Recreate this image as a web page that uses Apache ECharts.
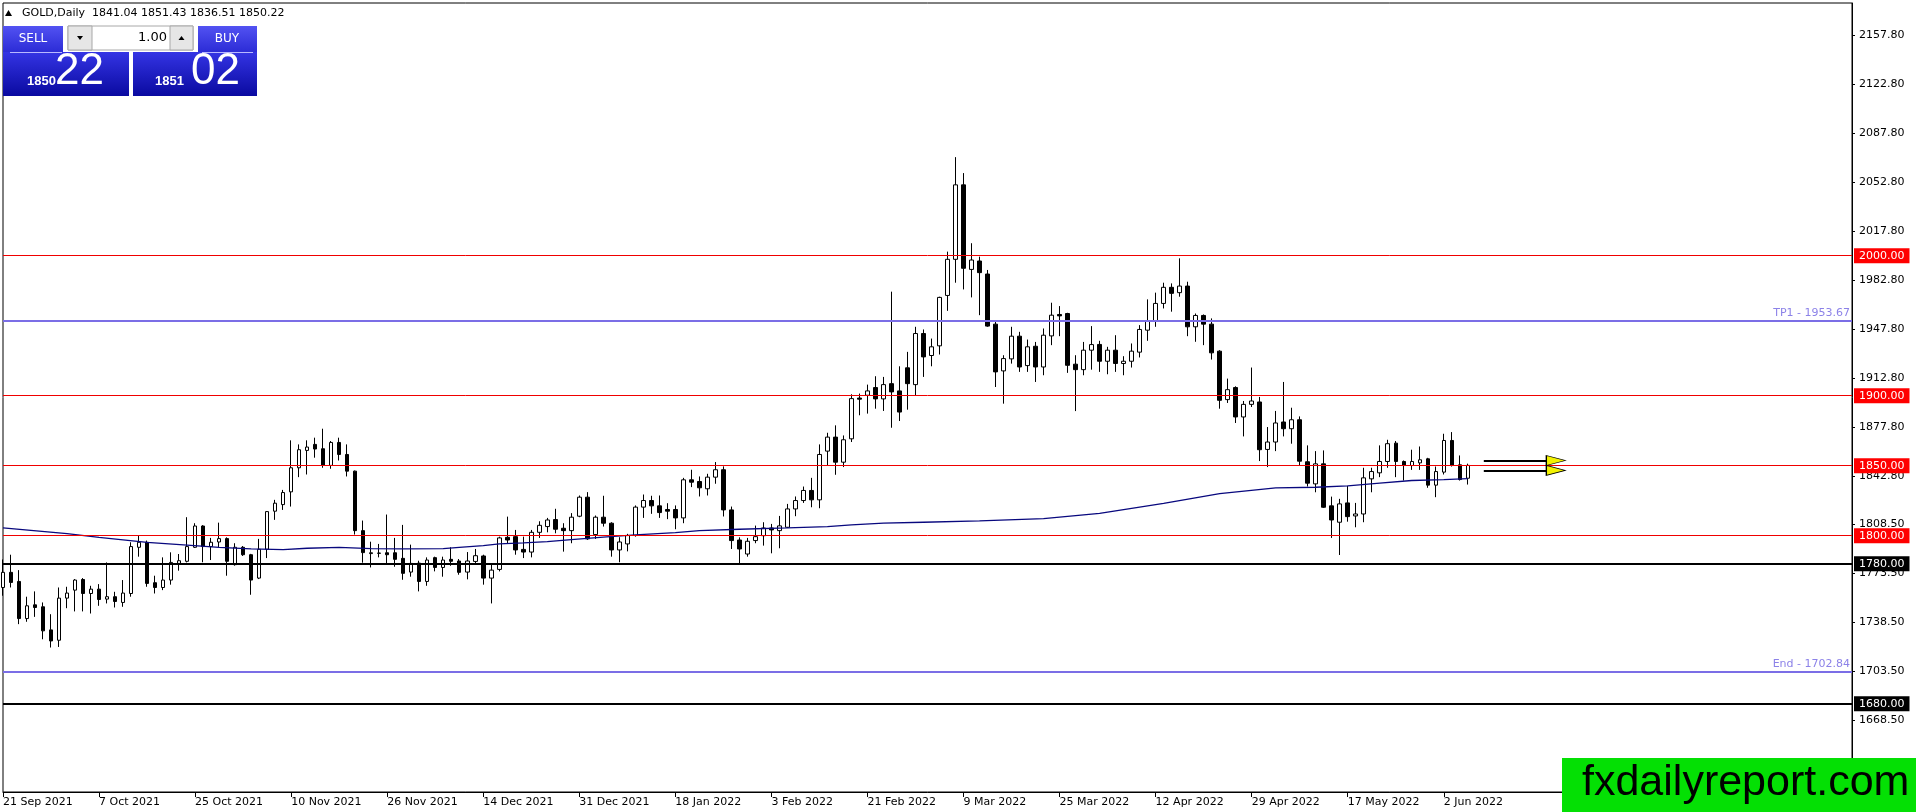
<!DOCTYPE html>
<html>
<head>
<meta charset="utf-8">
<title>GOLD,Daily</title>
<script src="https://cdn.jsdelivr.net/npm/echarts@6/dist/echarts.min.js"></script>
<style>
  html, body { margin: 0; padding: 0; background: #fff; }
  #chart { width: 1916px; height: 812px; }
</style>
</head>
<body>
<div id="chart"></div>
<script>
// GOLD daily bars, 21 Sep 2021 .. 7 Jun 2022
var opens = [
    1763.0, 1773.8, 1767.3, 1740.8, 1750.6, 1749.2, 1732.7, 1725.3, 1755.4, 1761.1,
    1768.7, 1758.7, 1761.8, 1754.7, 1756.4, 1752.3, 1758.7, 1791.7, 1795.3, 1766.4,
    1763.0, 1768.3, 1780.2, 1781.7, 1791.7, 1806.9, 1792.2, 1795.5, 1797.9, 1779.3,
    1791.7, 1786.4, 1769.7, 1790.3, 1817.5, 1822.2, 1831.3, 1848.5, 1860.9, 1865.2,
    1862.1, 1850.2, 1866.6, 1858.0, 1846.1, 1803.6, 1787.2, 1787.6, 1787.8, 1787.8,
    1783.8, 1774.0, 1780.4, 1767.3, 1784.3, 1777.3, 1783.1, 1781.9, 1774.0, 1781.6,
    1785.5, 1769.7, 1775.9, 1798.8, 1799.3, 1790.2, 1788.3, 1802.4, 1806.5, 1811.5,
    1805.3, 1803.6, 1813.9, 1827.5, 1800.8, 1813.2, 1808.9, 1789.8, 1794.1, 1800.1,
    1820.4, 1825.1, 1821.3, 1818.7, 1818.7, 1812.7, 1839.9, 1838.7, 1833.5, 1841.8,
    1847.1, 1818.4, 1796.9, 1786.9, 1796.5, 1800.0, 1805.5, 1803.6, 1806.0, 1819.1,
    1825.1, 1832.3, 1825.6, 1860.4, 1870.4, 1852.5, 1869.2, 1898.3, 1900.3, 1905.8,
    1897.7, 1908.6, 1903.4, 1919.9, 1907.9, 1944.4, 1928.7, 1935.6, 1971.6, 1997.4,
    2050.6, 1990.2, 1996.2, 1986.9, 1951.1, 1917.7, 1926.3, 1942.5, 1921.5, 1935.3,
    1920.5, 1942.7, 1958.0, 1958.7, 1922.5, 1918.6, 1932.5, 1936.6, 1924.6, 1932.5,
    1923.0, 1924.6, 1931.1, 1946.8, 1953.5, 1965.9, 1977.4, 1973.6, 1978.3, 1949.2,
    1957.3, 1951.1, 1931.8, 1897.2, 1905.8, 1884.8, 1893.8, 1895.5, 1861.6, 1866.9,
    1881.2, 1876.4, 1882.8, 1852.8, 1837.0, 1851.3, 1821.3, 1809.6, 1823.4, 1814.1,
    1815.5, 1840.6, 1844.9, 1853.0, 1866.1, 1853.0, 1850.1, 1852.0, 1854.9, 1836.1,
    1845.4, 1868.0, 1850.6, 1841.04
];
var highs = [
    1783.0, 1786.4, 1775.4, 1756.4, 1760.2, 1752.3, 1743.9, 1763.0, 1763.5, 1769.0,
    1769.7, 1764.2, 1765.4, 1780.9, 1759.9, 1768.3, 1795.3, 1800.0, 1796.5, 1771.4,
    1784.5, 1788.1, 1786.9, 1813.2, 1808.9, 1807.5, 1798.4, 1809.3, 1798.8, 1794.6,
    1792.6, 1787.0, 1797.7, 1817.5, 1825.6, 1832.7, 1868.1, 1865.2, 1868.1, 1870.0,
    1876.4, 1867.6, 1870.0, 1865.2, 1846.5, 1810.8, 1795.7, 1794.1, 1815.1, 1798.4,
    1807.7, 1793.6, 1782.1, 1784.5, 1785.0, 1785.0, 1791.7, 1783.3, 1788.3, 1790.5,
    1786.4, 1779.7, 1799.3, 1813.6, 1804.1, 1799.3, 1804.1, 1810.3, 1812.7, 1819.2,
    1808.9, 1816.1, 1828.7, 1831.1, 1814.4, 1828.5, 1809.6, 1798.9, 1801.3, 1821.6,
    1829.4, 1828.5, 1828.7, 1823.2, 1821.6, 1841.3, 1847.1, 1842.3, 1844.2, 1852.6,
    1849.5, 1820.8, 1798.8, 1798.4, 1807.2, 1809.6, 1808.4, 1814.1, 1822.7, 1828.0,
    1835.1, 1841.3, 1865.2, 1873.5, 1878.8, 1871.6, 1901.0, 1901.5, 1907.9, 1913.9,
    1913.4, 1974.3, 1921.0, 1931.3, 1949.2, 1947.3, 1940.8, 1970.7, 2002.9, 2070.4,
    2059.0, 2008.9, 1999.3, 1989.8, 1952.8, 1928.9, 1949.2, 1945.6, 1940.1, 1938.4,
    1948.0, 1966.4, 1964.0, 1959.2, 1928.9, 1938.4, 1949.7, 1939.2, 1934.9, 1943.2,
    1928.2, 1937.3, 1950.4, 1968.8, 1973.6, 1980.7, 1980.2, 1998.1, 1981.4, 1958.7,
    1958.0, 1955.2, 1932.5, 1912.2, 1906.7, 1896.2, 1920.1, 1899.1, 1877.6, 1889.1,
    1909.8, 1891.4, 1885.2, 1864.5, 1860.4, 1860.9, 1827.9, 1826.3, 1835.6, 1823.4,
    1848.5, 1848.5, 1864.5, 1868.5, 1867.6, 1853.7, 1861.4, 1863.7, 1855.6, 1849.4,
    1872.8, 1874.0, 1857.3, 1851.43
];
var lows = [
    1757.1, 1763.0, 1736.8, 1738.5, 1742.0, 1726.0, 1720.1, 1720.5, 1748.2, 1745.9,
    1745.9, 1744.4, 1749.9, 1751.6, 1748.7, 1749.2, 1756.4, 1785.0, 1763.5, 1758.7,
    1761.1, 1765.0, 1775.0, 1780.9, 1791.2, 1781.0, 1782.6, 1791.7, 1771.4, 1778.6,
    1785.5, 1757.8, 1769.0, 1784.0, 1811.3, 1818.4, 1820.8, 1841.8, 1843.7, 1855.7,
    1848.5, 1847.8, 1853.7, 1842.3, 1800.8, 1780.7, 1777.3, 1784.5, 1779.3, 1777.8,
    1768.5, 1770.7, 1760.2, 1764.2, 1774.5, 1770.7, 1778.5, 1772.1, 1768.8, 1780.2,
    1765.0, 1751.6, 1774.5, 1794.1, 1786.4, 1784.0, 1784.5, 1798.4, 1802.4, 1801.7,
    1788.6, 1794.6, 1813.2, 1797.0, 1797.7, 1806.5, 1785.0, 1781.0, 1788.8, 1799.3,
    1812.7, 1815.6, 1812.7, 1811.8, 1804.6, 1808.9, 1834.7, 1828.0, 1828.7, 1837.1,
    1813.7, 1790.5, 1779.8, 1785.0, 1794.6, 1792.9, 1787.4, 1791.0, 1805.5, 1813.9,
    1823.4, 1820.3, 1819.6, 1850.2, 1843.5, 1849.0, 1866.9, 1886.0, 1887.2, 1890.7,
    1889.1, 1877.1, 1881.9, 1890.0, 1900.3, 1913.4, 1921.0, 1929.4, 1960.6, 1980.7,
    1975.9, 1970.2, 1957.5, 1949.2, 1906.2, 1894.3, 1922.9, 1917.0, 1917.0, 1909.8,
    1914.6, 1936.1, 1942.5, 1916.3, 1889.0, 1914.6, 1918.6, 1917.0, 1915.3, 1917.0,
    1914.6, 1920.1, 1927.3, 1939.2, 1949.2, 1962.3, 1960.0, 1970.7, 1942.5, 1938.5,
    1936.1, 1925.8, 1890.7, 1894.8, 1880.5, 1870.9, 1891.9, 1853.3, 1849.0, 1860.4,
    1870.9, 1865.7, 1850.1, 1835.1, 1831.0, 1819.8, 1798.4, 1786.2, 1810.0, 1806.0,
    1809.6, 1831.0, 1841.8, 1848.5, 1841.8, 1839.4, 1847.0, 1847.0, 1834.2, 1827.5,
    1843.7, 1849.4, 1839.4, 1836.51
];
var closes = [
    1773.8, 1766.6, 1740.8, 1749.9, 1748.7, 1732.0, 1724.8, 1755.4, 1759.0, 1768.3,
    1758.7, 1761.8, 1754.4, 1756.4, 1753.0, 1759.0, 1792.2, 1795.3, 1765.9, 1763.0,
    1768.3, 1780.9, 1782.1, 1792.2, 1806.9, 1792.2, 1795.3, 1797.9, 1781.7, 1791.7,
    1786.4, 1768.3, 1790.3, 1817.2, 1823.2, 1830.8, 1848.5, 1861.4, 1863.3, 1861.9,
    1850.2, 1866.6, 1858.0, 1846.1, 1803.6, 1787.9, 1787.8, 1787.4, 1786.4, 1783.1,
    1773.1, 1780.2, 1767.3, 1782.6, 1777.3, 1782.6, 1781.7, 1773.8, 1781.9, 1785.7,
    1769.7, 1775.4, 1798.4, 1796.9, 1789.8, 1788.3, 1802.4, 1807.4, 1811.2, 1804.6,
    1803.6, 1813.2, 1827.5, 1797.7, 1813.2, 1808.9, 1789.8, 1795.5, 1800.1, 1820.4,
    1825.1, 1821.3, 1816.5, 1817.5, 1812.7, 1839.9, 1838.2, 1834.2, 1841.8, 1847.1,
    1818.4, 1796.5, 1790.5, 1796.0, 1799.3, 1805.5, 1804.1, 1807.0, 1819.1, 1825.1,
    1832.3, 1825.6, 1858.0, 1870.4, 1852.5, 1868.5, 1897.9, 1897.5, 1903.4, 1897.7,
    1907.9, 1902.7, 1888.3, 1908.6, 1944.4, 1927.7, 1934.9, 1970.2, 1997.4, 2050.6,
    1991.0, 1996.9, 1987.9, 1949.7, 1917.0, 1926.5, 1942.5, 1920.5, 1934.9, 1920.5,
    1943.2, 1957.5, 1957.0, 1921.7, 1918.6, 1932.5, 1936.5, 1924.6, 1932.5, 1923.0,
    1924.6, 1931.8, 1947.3, 1953.5, 1965.9, 1977.4, 1973.1, 1978.3, 1949.2, 1957.3,
    1951.1, 1930.6, 1896.7, 1904.3, 1884.8, 1893.8, 1896.2, 1861.4, 1866.9, 1880.5,
    1876.4, 1882.8, 1853.2, 1837.5, 1851.3, 1820.3, 1811.2, 1822.7, 1813.6, 1815.5,
    1841.3, 1845.8, 1853.0, 1865.7, 1853.0, 1850.1, 1853.0, 1854.2, 1836.1, 1845.8,
    1868.0, 1850.1, 1840.1, 1850.22
];

// moving average at some bars: [bar index, price]
var maPoints = [
    [0, 1805.5], [8, 1801.5], [12, 1798.8], [18, 1795.2], [23, 1793.3], [27, 1791.7],
    [31, 1790.5], [35, 1790.0], [38, 1791.0], [42, 1791.7], [46, 1790.7], [50, 1790.5],
    [55, 1790.7], [57, 1791.7], [60, 1792.9], [62, 1794.1], [65, 1794.8], [68, 1795.7],
    [71, 1797.2], [75, 1798.9], [79, 1800.5], [84, 1802.2], [87, 1803.6], [92, 1804.6],
    [98, 1805.5], [103, 1806.5], [106, 1807.7], [110, 1808.9], [115, 1809.6], [122, 1810.5],
    [130, 1812.2], [137, 1816.0], [145, 1823.0], [152, 1830.0], [159, 1834.2], [164, 1834.6],
    [168, 1835.6], [172, 1837.5], [176, 1839.4], [180, 1840.1], [183, 1840.8]
];

// price axis labels as printed by the terminal
var priceTicks = [2157.8, 2122.8, 2087.8, 2052.8, 2017.8, 1982.8, 1947.8, 1912.8,
    1877.8, 1842.8, 1808.5, 1773.5, 1738.5, 1703.5, 1668.5];

// horizontal objects
var redLevels = [2000, 1900, 1850, 1800];
var blackLevels = [1780, 1680];
var targets = [
    { name: 'TP1', price: 1953.67 },
    { name: 'End', price: 1702.84 }
];
var arrowPrices = [1853.7, 1846.6];
var arrowFrom = 185, arrowTo = 193, arrowHead = 194;

// date axis: trading days from 21 Sep 2021, every 12th bar labelled
var firstDay = Date.UTC(2021, 8, 21);
var closedDays = ['2021-12-24', '2022-04-15'];
var barCount = 232;
var labelEvery = 12;
var lastLabel = 180;
var monthNames = ['Jan', 'Feb', 'Mar', 'Apr', 'May', 'Jun', 'Jul', 'Aug', 'Sep', 'Oct', 'Nov', 'Dec'];

var categories = [];
var t = firstDay;
while (categories.length < barCount) {
    var d = new Date(t);
    var wd = d.getUTCDay();
    var iso = d.toISOString().slice(0, 10);
    if (wd !== 0 && wd !== 6 && closedDays.indexOf(iso) < 0) {
        categories.push(d.getUTCDate() + ' ' + monthNames[d.getUTCMonth()] + ' ' + d.getUTCFullYear());
    }
    t += 86400000;
}

var candles = [];
for (var i = 0; i < opens.length; i++) {
    candles.push([opens[i], closes[i], lows[i], highs[i]]);
}

var FONT = 'DejaVu Sans';
var showDate = function (idx) { return idx % labelEvery === 0 && idx <= lastLabel; };

var levelLines = [];
redLevels.forEach(function (p) {
    levelLines.push({
        yAxis: p,
        lineStyle: { color: '#f00000', width: 1, type: 'solid' },
        label: {
            show: true, position: 'end', distance: 2, formatter: p.toFixed(2),
            color: '#fff', backgroundColor: '#ff0000', padding: [2, 5, 1, 5],
            fontFamily: FONT, fontSize: 11, lineHeight: 12
        }
    });
});
blackLevels.forEach(function (p) {
    levelLines.push({
        yAxis: p,
        lineStyle: { color: '#000', width: 2, type: 'solid' },
        label: {
            show: true, position: 'end', distance: 2, formatter: p.toFixed(2),
            color: '#fff', backgroundColor: '#000', padding: [2, 5, 1, 5],
            fontFamily: FONT, fontSize: 11, lineHeight: 12
        }
    });
});
targets.forEach(function (tg) {
    levelLines.push({
        yAxis: tg.price,
        lineStyle: { color: '#7b6ee6', width: 2, type: 'solid' },
        label: {
            show: true, position: 'insideEndTop', distance: 2,
            formatter: tg.name + ' - ' + tg.price.toFixed(2),
            color: '#8c82e8', fontFamily: FONT, fontSize: 11
        }
    });
});
arrowPrices.forEach(function (p) {
    levelLines.push([
        { coord: [arrowFrom, p], lineStyle: { color: '#000', width: 2, type: 'solid' }, label: { show: false } },
        { coord: [arrowTo, p] }
    ]);
});

var arrowHeads = arrowPrices.map(function (p) {
    return { coord: [arrowHead, p] };
});

var last = opens.length - 1;
var header = 'GOLD,Daily  ' + [opens[last], highs[last], lows[last], closes[last]]
    .map(function (v) { return v.toFixed(2); }).join(' ');

function blue(top, bottom) {
    return new echarts.graphic.LinearGradient(0, 0, 0, 1, [
        { offset: 0, color: top }, { offset: 1, color: bottom }
    ]);
}

var panel = [
    { type: 'polygon', shape: { points: [[5, 16], [8.5, 10], [12, 16]] }, style: { fill: '#000' } },
    { type: 'text', x: 22, y: 13, style: { text: header, font: '11px "DejaVu Sans"', fill: '#000', verticalAlign: 'middle' } },

    { type: 'rect', shape: { x: 3, y: 26, width: 60, height: 26 }, style: { fill: blue('#5252f2', '#2c2cd6') } },
    { type: 'text', x: 33, y: 39, style: { text: 'SELL', font: '12px "DejaVu Sans"', fill: '#fff', align: 'center', verticalAlign: 'middle' } },
    { type: 'rect', shape: { x: 198, y: 26, width: 59, height: 26 }, style: { fill: blue('#5252f2', '#2c2cd6') } },
    { type: 'text', x: 227, y: 39, style: { text: 'BUY', font: '12px "DejaVu Sans"', fill: '#fff', align: 'center', verticalAlign: 'middle' } },

    { type: 'rect', shape: { x: 68, y: 26, width: 125, height: 24 }, style: { fill: '#fff', stroke: '#a8a8a8', lineWidth: 1 } },
    { type: 'rect', shape: { x: 68, y: 26, width: 24, height: 24 }, style: { fill: '#e6e6e6', stroke: '#a8a8a8', lineWidth: 1 } },
    { type: 'rect', shape: { x: 170, y: 26, width: 23, height: 24 }, style: { fill: '#e6e6e6', stroke: '#a8a8a8', lineWidth: 1 } },
    { type: 'polygon', shape: { points: [[77, 36], [83, 36], [80, 40]] }, style: { fill: '#000' } },
    { type: 'polygon', shape: { points: [[178.5, 40], [184.5, 40], [181.5, 36]] }, style: { fill: '#000' } },
    { type: 'text', x: 167, y: 38, style: { text: '1.00', font: '13px "DejaVu Sans"', fill: '#000', align: 'right', verticalAlign: 'middle' } },

    { type: 'rect', shape: { x: 3, y: 52, width: 126, height: 44 }, style: { fill: blue('#3434e4', '#0a0aa0') } },
    { type: 'rect', shape: { x: 133, y: 52, width: 124, height: 44 }, style: { fill: blue('#3434e4', '#0a0aa0') } },
    { type: 'line', shape: { x1: 10, y1: 52.5, x2: 62, y2: 52.5 }, style: { stroke: '#b8b8ff', lineWidth: 1 } },
    { type: 'line', shape: { x1: 202, y1: 52.5, x2: 253, y2: 52.5 }, style: { stroke: '#b8b8ff', lineWidth: 1 } },
    { type: 'text', x: 27, y: 88, style: { text: '1850', font: 'bold 13px "Liberation Sans"', fill: '#fff', verticalAlign: 'bottom' } },
    { type: 'text', x: 55, y: 94, style: { text: '22', font: '44px "Liberation Sans"', fill: '#fff', verticalAlign: 'bottom' } },
    { type: 'text', x: 155, y: 88, style: { text: '1851', font: 'bold 13px "Liberation Sans"', fill: '#fff', verticalAlign: 'bottom' } },
    { type: 'text', x: 191, y: 94, style: { text: '02', font: '44px "Liberation Sans"', fill: '#fff', verticalAlign: 'bottom' } },

    { type: 'rect', shape: { x: 1562, y: 758, width: 354, height: 54 }, style: { fill: '#04e004' } },
    { type: 'text', x: 1582, y: 783, style: { text: 'fxdailyreport.com', font: '43px "Liberation Sans"', fill: '#000', verticalAlign: 'middle' } }
];

var myChart = echarts.init(document.getElementById('chart'));
var option = {
    animation: false,
    backgroundColor: '#fff',
    grid: {
        left: 3, right: 64, top: 3, bottom: 20,
        show: true, borderColor: '#000', borderWidth: 1, backgroundColor: '#fff'
    },
    xAxis: {
        type: 'category',
        data: categories,
        boundaryGap: false,
        axisLine: { lineStyle: { color: '#000', width: 1 } },
        axisTick: { interval: showDate, length: 5, lineStyle: { color: '#000' } },
        axisLabel: {
            interval: showDate, align: 'left', margin: 5,
            color: '#000', fontFamily: FONT, fontSize: 11
        },
        splitLine: { show: false }
    },
    yAxis: {
        type: 'value',
        position: 'right',
        min: 1616.9,
        max: 2180.5,
        axisLine: { show: true, lineStyle: { color: '#000', width: 1 } },
        axisTick: { show: true, customValues: priceTicks, length: 3, lineStyle: { color: '#000' } },
        axisLabel: {
            customValues: priceTicks, margin: 7,
            formatter: function (v) { return v.toFixed(2); },
            color: '#000', fontFamily: FONT, fontSize: 11
        },
        splitLine: { show: false }
    },
    graphic: { elements: panel.map(function (el) { el.z = 100; return el; }) },
    series: [
        {
            type: 'candlestick',
            data: candles,
            barWidth: 4,
            clip: true,
            itemStyle: {
                color: '#fff', color0: '#000',
                borderColor: '#000', borderColor0: '#000', borderWidth: 1
            }
        },
        {
            type: 'line',
            name: 'MA',
            data: maPoints,
            showSymbol: false,
            symbol: 'none',
            lineStyle: { color: '#08087e', width: 1.3 },
            z: 3,
            markLine: {
                silent: true,
                symbol: ['none', 'none'],
                animation: false,
                data: levelLines
            },
            markPoint: {
                silent: true,
                symbol: 'triangle',
                symbolRotate: -90,
                symbolSize: [10, 19],
                itemStyle: { color: '#f2f200', borderColor: '#000', borderWidth: 1 },
                label: { show: false },
                data: arrowHeads
            }
        }
    ]
};
myChart.setOption(option);
</script>
</body>
</html>
